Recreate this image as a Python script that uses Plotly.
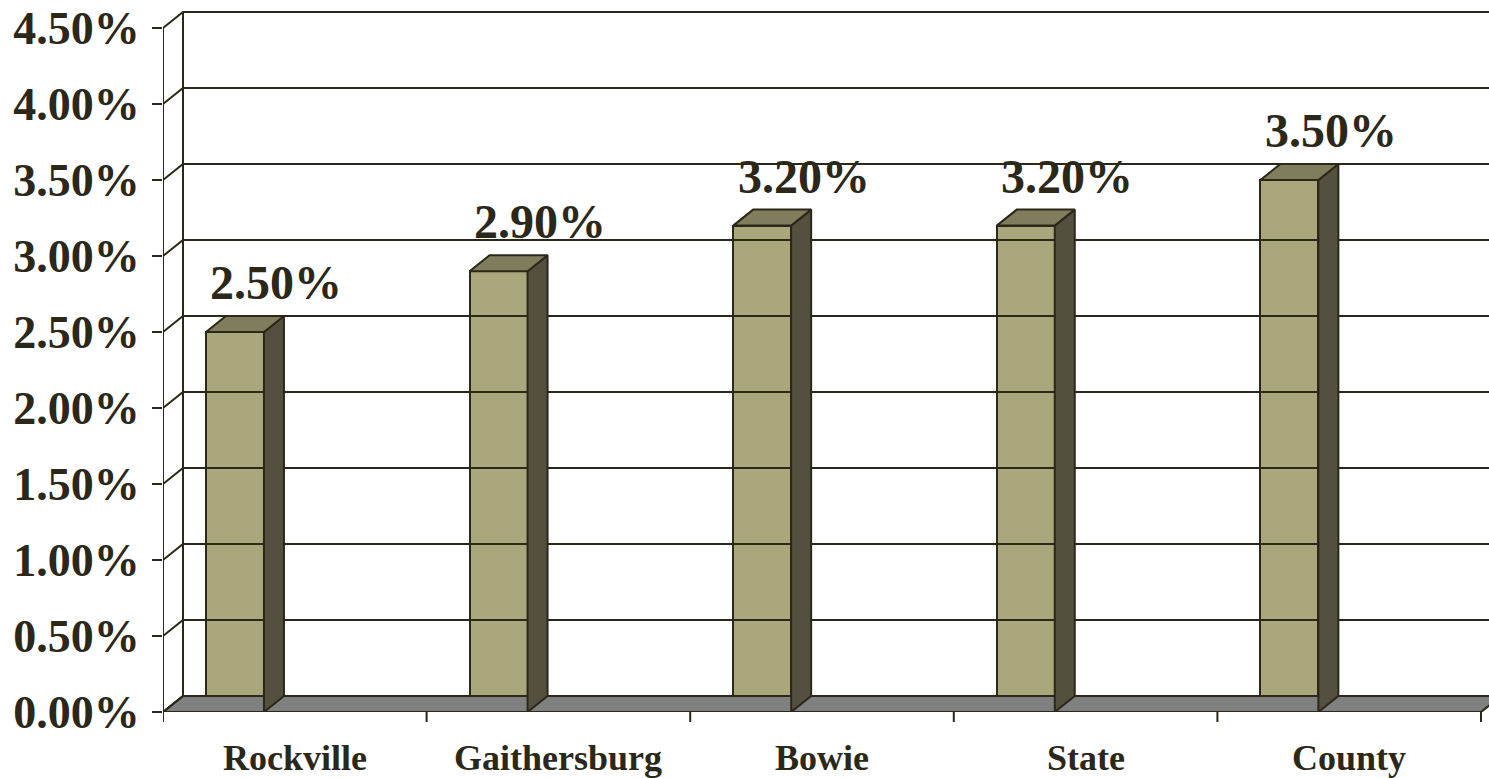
import plotly.graph_objects as go

# Chart data
categories = ["Rockville", "Gaithersburg", "Bowie", "State", "County"]
values = [2.5, 2.9, 3.2, 3.2, 3.5]
y_ticks = [0.0, 0.5, 1.0, 1.5, 2.0, 2.5, 3.0, 3.5, 4.0, 4.5]
y_tick_labels = [f"{v:.2f}%" for v in y_ticks]

# Styling
FRONT = "#A9A77B"
TOP = "#807D5C"
SIDE = "#545040"
FLOOR = "#808080"
INK = "#2B2719"
FONT = "Liberation Serif"

# Pseudo-3D geometry (in axis units)
W, H = 1489, 778
L, R, T, B = 163, 0, 0, 66
PX_X = 263.6  # pixels per category
PX_Y = 152.0  # pixels per 1 %
DX = 20 / PX_X
DY = 16 / PX_Y
X_MAX = (W - L - R) / PX_X
Y_MAX = (H - T - B) / PX_Y
BAR_OFF = 0.163
BAR_W = 0.22

fig = go.Figure()


def poly(xs, ys, fill, width=2):
    fig.add_trace(go.Scatter(
        x=xs + [xs[0]], y=ys + [ys[0]], mode="lines", fill="toself",
        fillcolor=fill, line=dict(color=INK, width=width),
        hoverinfo="skip", showlegend=False))


def seg(xs, ys, width=2):
    fig.add_trace(go.Scatter(
        x=xs, y=ys, mode="lines", line=dict(color=INK, width=width),
        hoverinfo="skip", showlegend=False))


n = len(categories)
# floor
poly([0, n, n + DX, X_MAX + 1, X_MAX + 1, DX], [0, 0, DY, DY, DY, DY], FLOOR)

# back wall gridlines and side-wall diagonals
for v in y_ticks:
    seg([0, DX, X_MAX + 1], [v, v + DY, v + DY])
seg([DX, DX], [DY, y_ticks[-1] + DY])
seg([0, 0], [0, y_ticks[-1]])

# bars: side face, top face, front face
for i, v in enumerate(values):
    x0 = i + BAR_OFF
    x1 = x0 + BAR_W
    poly([x1, x1, x1 + DX, x1 + DX], [0, v, v + DY, DY], SIDE)
    poly([x0, x1, x1 + DX, x0 + DX], [v, v, v + DY, v + DY], TOP)

fig.add_trace(go.Bar(
    x=[i + BAR_OFF + BAR_W / 2 for i in range(n)], y=values, width=BAR_W,
    marker=dict(color=FRONT, line=dict(color=INK, width=2)),
    hoverinfo="skip", showlegend=False))

# value labels
for i, v in enumerate(values):
    fig.add_annotation(
        x=i + 0.43, y=v + DY, xref="x", yref="y", text=f"{v:.2f}%",
        showarrow=False, yanchor="bottom", yshift=5,
        font=dict(family=FONT, size=48, color=INK, weight="bold"))

# category labels
for i, c in enumerate(categories):
    fig.add_annotation(
        x=i + 0.5, y=0, xref="x", yref="paper", text=c, showarrow=False,
        yanchor="top", yshift=-24,
        font=dict(family=FONT, size=36, color=INK, weight="bold"))

# category tick marks
for i in range(n + 1):
    fig.add_shape(type="line", x0=i, x1=i, y0=0, y1=-10 / (H - T - B),
                  xref="x", yref="paper", line=dict(color=INK, width=2))

fig.update_layout(
    width=W, height=H, margin=dict(l=L, r=R, t=T, b=B),
    paper_bgcolor="white", plot_bgcolor="white", bargap=0,
    xaxis=dict(range=[0, X_MAX], showgrid=False, zeroline=False,
               showticklabels=False, ticks="", fixedrange=True),
    yaxis=dict(range=[0, Y_MAX], showgrid=False, zeroline=False,
               tickmode="array", tickvals=y_ticks, ticktext=y_tick_labels,
               ticks="outside", ticklen=10, tickwidth=2, tickcolor=INK,
               ticklabelstandoff=3,
               tickfont=dict(family=FONT, size=46, color=INK, weight="bold"),
               fixedrange=True),
)

fig.write_html("out.html")
